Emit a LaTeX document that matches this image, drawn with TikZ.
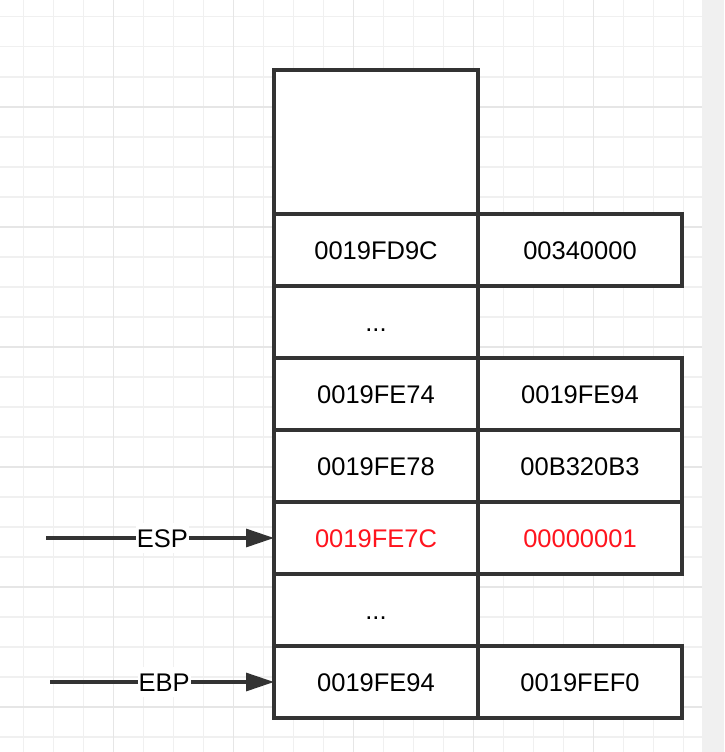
\documentclass[tikz,border=0pt]{standalone}
\usepackage{fontspec}
\setmainfont{Liberation Sans}
\usetikzlibrary{arrows.meta,positioning,chains}

\definecolor{boxline}{RGB}{51,51,51}
\definecolor{gridminor}{RGB}{240,240,240}
\definecolor{gridmajor}{RGB}{230,230,230}
\definecolor{sidebar}{RGB}{240,240,240}
\definecolor{hot}{RGB}{255,20,30}

\begin{document}
\begin{tikzpicture}[
            x=1pt, y=-1pt,
            every node/.style={ font=\fontsize{25.5}{30}\selectfont, text height=18.3pt, text depth=0pt },
            cell/.style={ draw=boxline, line width=3.2pt, fill=white, minimum width=204pt, minimum height=72pt, inner sep=0pt, outer sep=0pt },
            regarrow/.style={ draw=boxline, line width=3.2pt, -{Triangle[length=28pt,width=18pt]} },
            reglabel/.style={ fill=white, inner xsep=1pt, inner ysep=6pt },
            start chain=addr going below,
            node distance=0pt
        ]

        % background grid
        \useasboundingbox (0,0) rectangle (724,752);
        \fill[white] (0,0) rectangle (702,752);
        \fill[sidebar] (702,0) rectangle (724,752);
        \foreach \i in {0,...,22}
            \draw[gridminor, line width=1.6pt] ({23.3+30*\i},0) -- ({23.3+30*\i},752);
        \foreach \i in {0,...,24}
            \draw[gridminor, line width=1.6pt] (0,{16.7+30*\i}) -- (702,{16.7+30*\i});
        \foreach \i in {0,...,4}
            \draw[gridmajor, line width=1.6pt] ({113.3+120*\i},0) -- ({113.3+120*\i},752);
        \foreach \i in {0,...,5}
            \draw[gridmajor, line width=1.6pt] (0,{106.7+120*\i}) -- (702,{106.7+120*\i});

        % address column
        \node[cell, on chain=addr, minimum height=144pt] (top) at (376,142) {};
        \node[cell, on chain=addr] (r1) {0019FD9C};
        \node[cell, on chain=addr] (d1) {...};
        \node[cell, on chain=addr] (r2) {0019FE74};
        \node[cell, on chain=addr] (r3) {0019FE78};
        \node[cell, on chain=addr, text=hot] (esp) {0019FE7C};
        \node[cell, on chain=addr] (d2) {...};
        \node[cell, on chain=addr] (ebp) {0019FE94};

        % value column
        \node[cell, right=of r1] (v1) {00340000};
        \node[cell, right=of r2] (v2) {0019FE94};
        \node[cell, right=of r3] (v3) {00B320B3};
        \node[cell, right=of esp, text=hot] (espval) {00000001};
        \node[cell, right=of ebp] (ebpval) {0019FEF0};

        % registers
        \coordinate (espfrom) at (46,538);
        \coordinate (ebpfrom) at (50,682);
        \draw[regarrow] (espfrom) -- node[reglabel, pos=0.51] {ESP} (esp.west);
        \draw[regarrow] (ebpfrom) -- node[reglabel, pos=0.51] {EBP} (ebp.west);
    \end{tikzpicture}
\end{document}
